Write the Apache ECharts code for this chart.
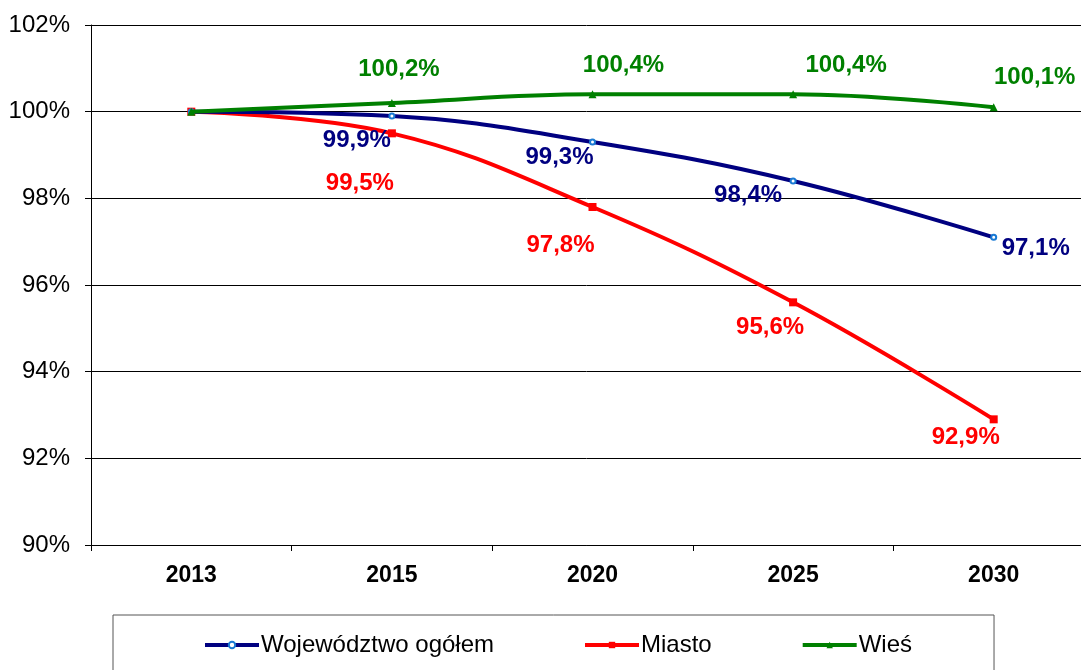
<!DOCTYPE html>
<html>
<head>
<meta charset="utf-8">
<script src="https://cdn.jsdelivr.net/npm/echarts@6/dist/echarts.min.js"></script>
<style>
  html, body { margin: 0; padding: 0; background: #fff; }
  #chart { width: 1081px; height: 670px; }
</style>
</head>
<body>
<div id="chart"></div>
<script>
// data
var years = ['2013', '2015', '2020', '2025', '2030'];
var wojewodztwo = [100, 99.9, 99.3, 98.4, 97.1];
var miasto = [100, 99.5, 97.8, 95.6, 92.9];
var wies = [100, 100.2, 100.4, 100.4, 100.1];
var yTicks = [90, 92, 94, 96, 98, 100, 102];

var FONT = 'Arial, "Liberation Sans", sans-serif';

function pct(v) {
    return v.toFixed(1).replace('.', ',') + '%';
}

// label offsets per point (first point has no label)
function withLabels(values, offsets, color) {
    return values.map(function (v, i) {
        if (i === 0) return { value: v, label: { show: false } };
        return {
            value: v,
            label: {
                show: true,
                position: 'inside',
                offset: offsets[i],
                formatter: pct(v),
                color: color,
                fontFamily: FONT,
                fontWeight: 'bold',
                fontSize: 24
            }
        };
    });
}

var chart = echarts.init(document.getElementById('chart'));

var option = {
    animation: false,
    backgroundColor: '#fff',
    grid: {
        left: 91,
        top: 25,
        width: 1003,
        height: 520,
        outerBoundsMode: 'none',
        containLabel: false
    },
    legend: {
        left: 113,
        top: 615,
        padding: [18, 82, 30, 90],
        borderColor: '#555',
        borderWidth: 1,
        itemWidth: 54,
        itemHeight: 8,
        itemGap: 89,
        lineStyle: { width: 4 },
        textStyle: {
            fontFamily: FONT,
            fontSize: 24,
            color: '#000',
            padding: [0, 0, 0, -3]
        },
        data: ['Województwo ogółem', 'Miasto', 'Wieś']
    },
    xAxis: {
        type: 'category',
        data: years,
        boundaryGap: true,
        axisLine: { lineStyle: { color: '#000', width: 1 } },
        axisTick: { show: true, length: 6, lineStyle: { color: '#000' } },
        axisLabel: {
            margin: 19,
            fontFamily: FONT,
            fontWeight: 'bold',
            fontSize: 23,
            color: '#000'
        },
        splitLine: { show: false }
    },
    yAxis: {
        type: 'value',
        min: yTicks[0],
        max: yTicks[yTicks.length - 1],
        interval: 2,
        axisLine: { show: true, lineStyle: { color: '#000', width: 1 } },
        axisTick: { show: true, length: 6, lineStyle: { color: '#000' } },
        axisLabel: {
            margin: 21,
            fontFamily: FONT,
            fontSize: 24,
            color: '#000',
            formatter: function (v) { return v + '%'; }
        },
        splitLine: { show: true, lineStyle: { color: '#000', width: 1 } }
    },
    series: [
        {
            name: 'Województwo ogółem',
            type: 'line',
            smooth: 0.4,
            symbol: 'emptyCircle',
            symbolSize: 5,
            z: 3,
            lineStyle: { color: '#000080', width: 4 },
            itemStyle: { color: '#1a7ad4', borderColor: '#1a7ad4', borderWidth: 2 },
            data: withLabels(wojewodztwo, [null, [-35, 24], [-33, 15], [-45, 14], [42, 11]], '#000080')
        },
        {
            name: 'Miasto',
            type: 'line',
            smooth: 0.4,
            symbol: 'rect',
            symbolSize: 8,
            z: 2,
            lineStyle: { color: '#ff0000', width: 4 },
            itemStyle: { color: '#ff0000' },
            data: withLabels(miasto, [null, [-32, 50], [-32, 38], [-23, 25], [-28, 18]], '#ff0000')
        },
        {
            name: 'Wieś',
            type: 'line',
            smooth: 0.4,
            symbol: 'triangle',
            symbolSize: 8,
            z: 4,
            lineStyle: { color: '#008000', width: 4 },
            itemStyle: { color: '#008000' },
            data: withLabels(wies, [null, [7, -34], [31, -29], [53, -29], [41, -30]], '#008000')
        }
    ]
};

chart.setOption(option);
</script>
</body>
</html>
